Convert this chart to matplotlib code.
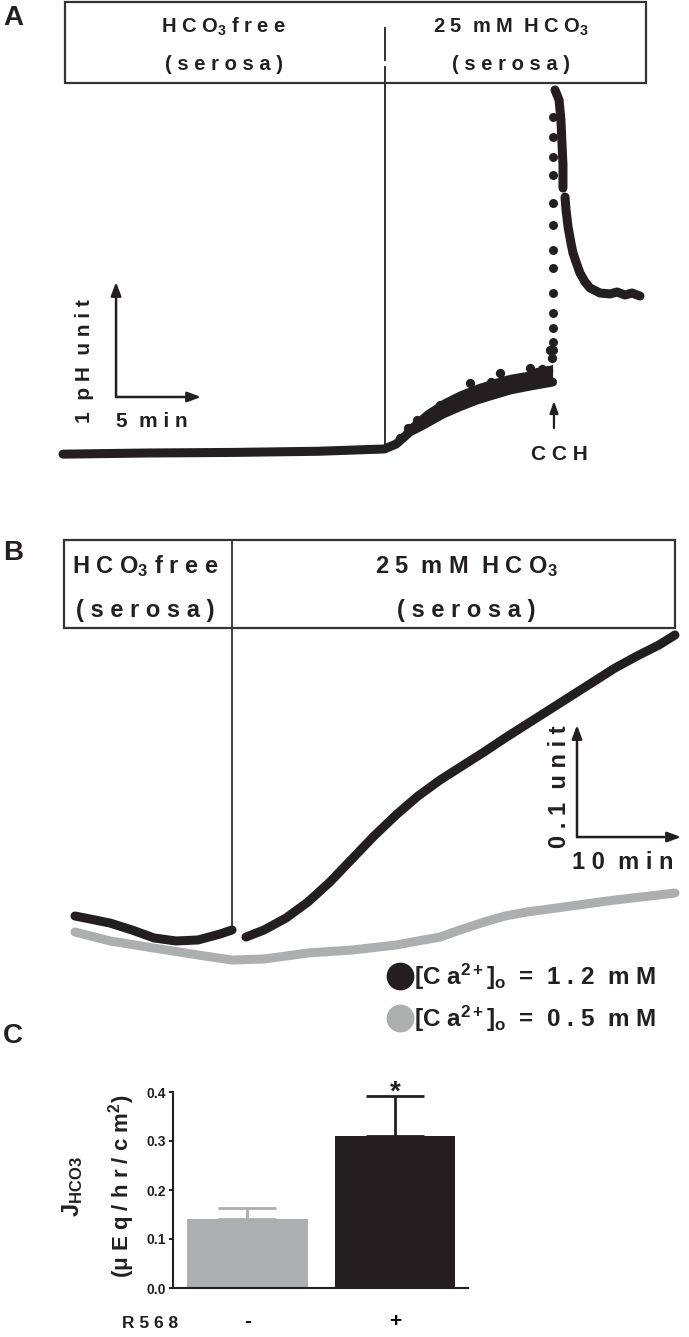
import matplotlib.pyplot as plt
import matplotlib.transforms as mtransforms
from matplotlib.patches import Rectangle

plt.rcParams['font.family'] = ['Liberation Sans', 'DejaVu Sans']
plt.rcParams['font.weight'] = 'bold'
plt.rcParams['mathtext.fontset'] = 'custom'
plt.rcParams['mathtext.rm'] = 'Liberation Sans:bold'
plt.rcParams['mathtext.it'] = 'Liberation Sans:bold'
plt.rcParams['mathtext.bf'] = 'Liberation Sans:bold'

W, H = 689, 1337
INK = '#231f20'
GREY = '#adaeb0'
BOX = '#333333'

# ---- panel A: time (min) vs change in pH
a_switch = 18.94       # serosal HCO3 added
a_cch = 28.88          # carbachol added
a_line_t = [0, 5, 10, 15, 18.9, 19.6, 20.4, 21.3, 22.35, 23.3, 24.35, 25.3, 26.3, 27.5, 28.8]
a_line_ph = [-0.01, 0.0, 0.005, 0.015, 0.035, 0.078, 0.183, 0.252, 0.339, 0.40, 0.461, 0.504, 0.548, 0.583, 0.617]
a_band_t = [19.6, 20.4, 21.3, 22.35, 23.3, 24.35, 25.3, 26.3, 27.5, 28.8]
a_band_lo = [0.078, 0.183, 0.252, 0.339, 0.40, 0.461, 0.504, 0.548, 0.583, 0.617]
a_band_hi = [0.12, 0.255, 0.37, 0.47, 0.54, 0.60, 0.645, 0.685, 0.715, 0.77]
a_dot_t = [19.82, 20.3, 20.82, 21.71, 22.2, 22.59, 23.47, 23.94, 24.53, 25.2, 25.71, 26.06, 26.88,
           27.47, 27.88, 28.2, 28.53, 28.65, 28.76]
a_dot_ph = [0.13, 0.22, 0.287, 0.357, 0.42, 0.435, 0.478, 0.609, 0.565, 0.62, 0.696, 0.635, 0.652,
            0.739, 0.704, 0.73, 0.722, 0.896, 0.826]
a_spike_t = [28.82] * 13
a_spike_ph = [0.896, 0.965, 1.087, 1.217, 1.391, 1.609, 1.765, 1.983, 2.174, 2.417, 2.574, 2.748, 2.922]
a_peak_t = [28.94, 29.18, 29.29, 29.35, 29.41, 29.41]
a_peak_ph = [3.157, 3.070, 2.896, 2.696, 2.504, 2.304]
a_decay_t = [29.53, 29.59, 29.71, 29.88, 30.0, 30.24, 30.41, 30.71, 31.0, 31.59, 32.18, 32.59, 33.06, 33.47, 33.94]
a_decay_ph = [2.226, 2.113, 1.965, 1.826, 1.739, 1.635, 1.565, 1.487, 1.435, 1.391, 1.383, 1.400, 1.374, 1.391, 1.365]

# ---- panel B: time (min) vs change in pH
b_switch = 15.1
b_hi_t = [0, 3.37, 5.48, 7.60, 9.71, 11.83, 13.94, 15.1]
b_hi_ph = [0, -0.0063, -0.0125, -0.0196, -0.0223, -0.0214, -0.0161, -0.0125]
b_hi2_t = [16.44, 18.17, 20.29, 22.40, 24.52, 26.63, 28.75, 30.87, 32.98, 35.10, 37.21, 39.33, 41.35,
           43.46, 45.58, 47.69, 49.81, 51.92, 54.04, 56.15, 57.69]
b_hi2_ph = [-0.0188, -0.0125, -0.0018, 0.0125, 0.0304, 0.0509, 0.0714, 0.0902, 0.1071, 0.1214, 0.1339,
            0.1464, 0.1589, 0.1714, 0.1839, 0.1964, 0.2089, 0.2214, 0.2321, 0.2420, 0.2509]
b_lo_t = [0, 3.37, 7.60, 11.83, 15.10, 18.17, 22.40, 26.63, 30.87, 32.98, 35.10, 37.02, 39.33, 41.35,
          43.46, 47.69, 51.92, 55.29, 57.69]
b_lo_ph = [-0.0143, -0.0223, -0.0286, -0.0348, -0.0393, -0.0384, -0.0330, -0.0304, -0.0259, -0.0223,
           -0.0188, -0.0125, -0.0054, 0.0, 0.0036, 0.0089, 0.0143, 0.0179, 0.0205]
b_labels = ['[C a$^{2+}$]$_{\\rm o}$  =  1 . 2  m M', '[C a$^{2+}$]$_{\\rm o}$  =  0 . 5  m M']

# ---- panel C: bicarbonate flux
c_labels = ['-', '+']
c_vals = [0.141, 0.310]
c_err = [0.022, 0.082]
c_colors = [GREY, INK]

fig = plt.figure(figsize=(W / 100, H / 100), dpi=100)
px = mtransforms.Affine2D().scale(1 / W, -1 / H).translate(0, 1) + fig.transFigure


def add_px_axes(x0, y0, x1, y1):
    return fig.add_axes([x0 / W, 1 - y1 / H, (x1 - x0) / W, (y1 - y0) / H])


def txt(x, y, s, size, **kw):
    fig.text(x, y, s, transform=px, fontsize=size, fontweight='bold', color=INK, **kw)


def arrow(ax, start, end, lw=1.8):
    ax.annotate('', xy=end, xytext=start,
                arrowprops=dict(arrowstyle='-|>,head_length=0.8,head_width=0.3', lw=lw,
                                color=INK, shrinkA=0, shrinkB=0))


# ================= panel A =================
axA = add_px_axes(0, 0, W, 480)
axA.set_xlim((0 - 63) / 17, (W - 63) / 17)
axA.set_ylim((453 - 480) / 115, 453 / 115)
axA.axis('off')
blendA = mtransforms.blended_transform_factory(axA.transData, px)

axA.plot(a_line_t, a_line_ph, color=INK, lw=6.5, solid_capstyle='round')
axA.fill_between(a_band_t, a_band_lo, a_band_hi, color=INK, lw=0)
axA.scatter(a_dot_t, a_dot_ph, s=45, color=INK, lw=0)
axA.scatter(a_spike_t, a_spike_ph, s=42, color=INK, lw=0)
axA.plot(a_peak_t, a_peak_ph, color=INK, lw=6.5, solid_capstyle='round')
axA.plot(a_decay_t, a_decay_ph, color=INK, lw=6.5, solid_capstyle='round')

axA.plot([a_switch, a_switch], [448, 67], color=INK, lw=1.3, transform=blendA)
axA.plot([a_switch, a_switch], [28, 60], color=INK, lw=1.3, transform=blendA)
fig.add_artist(Rectangle((65, 2), 581, 81, transform=px, fill=False, ec=BOX, lw=1.6))
txt(224, 33, 'H C O$_3$ f r e e', 14.5, ha='center', va='baseline')
txt(224, 70, '( s e r o s a )', 14.5, ha='center', va='baseline')
txt(511, 33, '2 5  m M  H C O$_3$', 14.5, ha='center', va='baseline')
txt(511, 70, '( s e r o s a )', 14.5, ha='center', va='baseline')

# scale bar: 5 min x 1 pH unit
arrow(axA, (3.12, 0.487), (3.12, 1.487))
arrow(axA, (3.12, 0.487), (8.12, 0.487))
txt(84, 361, '1  p H  u n i t', 15, ha='center', va='center', rotation=90)
txt(152, 427, '5  m i n', 15, ha='center', va='baseline')

# CCH
axA.annotate('', xy=(a_cch, 401), xytext=(a_cch, 428), xycoords=blendA, textcoords=blendA,
             arrowprops=dict(arrowstyle='-|>,head_length=0.7,head_width=0.25', lw=1.6,
                             color=INK, shrinkA=0, shrinkB=0))
txt(559, 460, 'C C H', 15, ha='center', va='baseline')
txt(13, 18, 'A', 20, ha='center', va='center')

# ================= panel B =================
axB = add_px_axes(0, 480, W, 1040)
axB.set_xlim((0 - 75) / 10.4, (W - 75) / 10.4)
axB.set_ylim((916 - 1040) / 1120, (916 - 480) / 1120)
axB.axis('off')
blendB = mtransforms.blended_transform_factory(axB.transData, px)

axB.plot(b_lo_t, b_lo_ph, color=GREY, lw=6.5, solid_capstyle='round', solid_joinstyle='round')
axB.plot(b_hi_t, b_hi_ph, color=INK, lw=6.5, solid_capstyle='round', solid_joinstyle='round')
axB.plot(b_hi2_t, b_hi2_ph, color=INK, lw=6.5, solid_capstyle='round', solid_joinstyle='round')
axB.plot([b_switch, b_switch], [540, 933], color=INK, lw=1.2, transform=blendB)
fig.add_artist(Rectangle((64, 540), 611, 88, transform=px, fill=False, ec=BOX, lw=1.6))
txt(145, 573, 'H C O$_3$ f r e e', 17, ha='center', va='baseline')
txt(145, 617, '( s e r o s a )', 17, ha='center', va='baseline')
txt(466, 573, '2 5  m M  H C O$_3$', 17, ha='center', va='baseline')
txt(466, 617, '( s e r o s a )', 17, ha='center', va='baseline')

arrow(axB, (48.27, 0.0705), (48.27, 0.1705))
arrow(axB, (48.27, 0.0705), (58.27, 0.0705))
txt(560, 787, '0 . 1  u n i t', 17, ha='center', va='center', rotation=90)
txt(623, 869, '1 0  m i n', 17, ha='center', va='baseline')

for yc, yb, col, lab in [(976, 985, INK, b_labels[0]), (1018, 1027, GREY, b_labels[1])]:
    fig.add_artist(plt.Line2D([400], [yc], transform=px, marker='o', ms=19, color=col, lw=0))
    txt(414, yb, lab, 17.5, ha='left', va='baseline')
txt(13, 553, 'B', 20, ha='center', va='center')

# ================= panel C =================
axC = add_px_axes(173, 1092, 468, 1288)
axC.bar(range(len(c_vals)), c_vals, width=0.82, color=c_colors)
for i in range(len(c_vals)):
    axC.errorbar(i, c_vals[i], yerr=[[0], [c_err[i]]], fmt='none', ecolor=c_colors[i],
                 elinewidth=2, capsize=21, capthick=2)
axC.annotate('*', xy=(1, c_vals[1] + c_err[1]), xytext=(0, -7), textcoords='offset points',
             ha='center', va='bottom', fontsize=20, fontweight='bold', color=INK)
axC.set_xlim(-0.505, 1.495)
axC.set_ylim(0, 0.4)
axC.set_yticks([0, 0.1, 0.2, 0.3, 0.4])
axC.set_yticklabels(['0.0', '0.1', '0.2', '0.3', '0.4'])
axC.set_xticks(range(len(c_labels)))
axC.set_xticklabels(c_labels, fontsize=15)
axC.tick_params(axis='x', length=0, pad=17)
axC.tick_params(axis='y', length=3, width=1.4, pad=2, labelsize=10, colors=INK)
for s in ['top', 'right']:
    axC.spines[s].set_visible(False)
for s in ['left', 'bottom']:
    axC.spines[s].set_linewidth(1.5)
    axC.spines[s].set_color(INK)
txt(178, 1328, 'R 5 6 8', 12.5, ha='right', va='baseline')
txt(73, 1187, 'J$_{\\rm H C O 3}$', 17, ha='center', va='center', rotation=90)
txt(122, 1186, '(μ E q / h r / c m$^2$)', 16, ha='center', va='center', rotation=90)
txt(13, 1036, 'C', 20, ha='center', va='center')

fig.savefig('out.png', dpi=100)
